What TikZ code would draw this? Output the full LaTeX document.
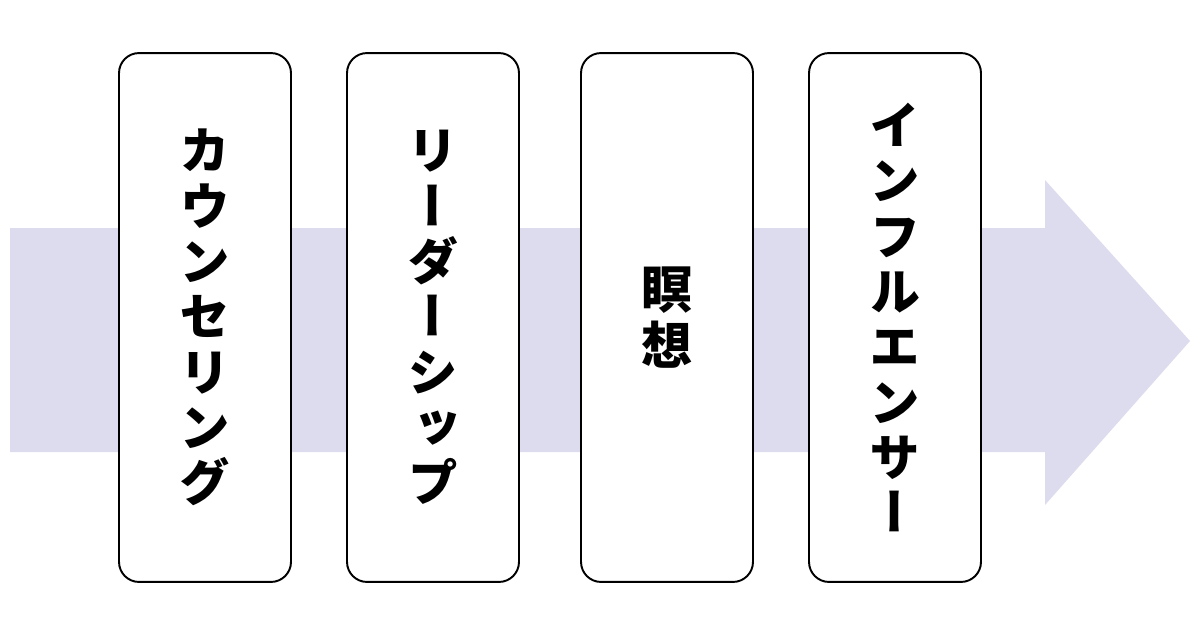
\documentclass[tikz,border=0pt]{standalone}
\usepackage{fontspec}
\newfontfamily\jpfont{Noto Sans CJK JP}[RawFeature=+vert]
\definecolor{flowfill}{RGB}{221,219,238}
\begin{document}
\begin{tikzpicture}[x=0.02cm, y=-0.02cm,
  stage/.style={draw, line width=1.1pt, rounded corners=0.4cm, fill=white,
    minimum width=3.44cm, minimum height=10.58cm, align=center,
    font=\jpfont\bfseries\fontsize{29}{31.5}\selectfont}]
\useasboundingbox (0,0) rectangle (1200,635);
% big arrow behind the boxes
\fill[flowfill] (10,228) -- (1045,228) -- (1045,180) -- (1190,341)
  -- (1045,505) -- (1045,452) -- (10,452) -- cycle;
% the four stages
\node[stage] (counsel) at (205,317.5) {カ\\ウ\\ン\\セ\\リ\\ン\\グ};
\node[stage] (leader) at (433,317.5) {リ\\ー\\ダ\\ー\\シ\\ッ\\プ};
\node[stage] (medit) at (667,317.5) {瞑\\想};
\node[stage] (influ) at (895,317.5) {イ\\ン\\フ\\ル\\エ\\ン\\サ\\ー};
\end{tikzpicture}
\end{document}
